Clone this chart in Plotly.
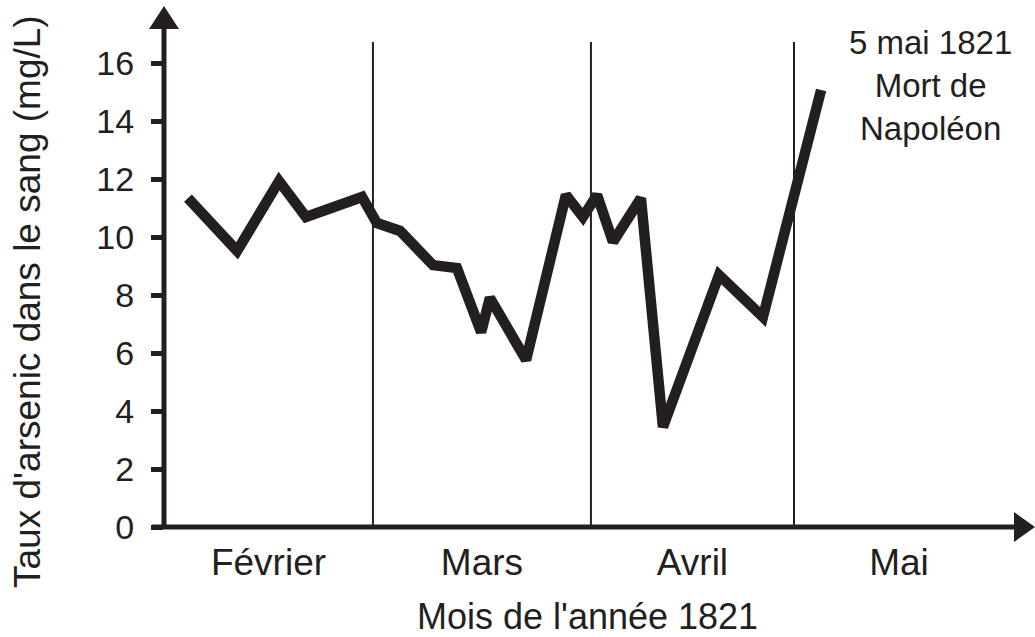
import plotly.graph_objects as go

# Data (x in month units: 0 = start of February)
x_vals = [0.114, 0.348, 0.548, 0.676, 0.943, 1.014, 1.124, 1.281, 1.395, 1.510,
          1.552, 1.724, 1.914, 1.995, 2.062, 2.138, 2.271, 2.376, 2.643, 2.852, 3.129]
arsenic = [11.34, 9.52, 11.93, 10.69, 11.38, 10.48, 10.21, 9.03, 8.93, 6.72,
           7.90, 5.76, 11.45, 10.69, 11.45, 9.83, 11.34, 3.45, 8.69, 7.24, 15.07]

months = ["Février", "Mars", "Avril", "Mai"]
month_bounds = [0.0, 0.995, 2.033, 3.0, 4.0]
y_ticks = [0, 2, 4, 6, 8, 10, 12, 14, 16]

INK = "#231f20"
FONT = "Liberation Sans, Arial, Helvetica, sans-serif"

W, H = 1035, 637
L, R, T, B = 164, 0, 7, 110
PX_PER_MONTH = 210
PX_PER_UNIT = 29
x_max = (W - L - R) / PX_PER_MONTH
y_max = (H - T - B) / PX_PER_UNIT

month_centers = [(month_bounds[i] + month_bounds[i + 1]) / 2 for i in range(len(months))]

fig = go.Figure()
fig.add_trace(go.Scatter(
    x=x_vals, y=arsenic, mode="lines",
    line=dict(color=INK, width=10.5),
    hoverinfo="skip", showlegend=False,
))

shapes = []
# month separators
for b in month_bounds[1:4]:
    shapes.append(dict(type="line", xref="x", yref="y", x0=b, x1=b, y0=0, y1=16.72,
                       line=dict(color=INK, width=2), layer="below"))

pw = W - L - R
ph = H - T - B
def px_x(p):
    return (p - L) / pw
def px_y(p):
    return (H - B - p) / ph

# axes lines
shapes.append(dict(type="line", xref="paper", yref="paper",
                   x0=px_x(152), x1=px_x(1016), y0=0, y1=0,
                   line=dict(color=INK, width=5)))
shapes.append(dict(type="line", xref="paper", yref="paper",
                   x0=0, x1=0, y0=px_y(529), y1=px_y(27),
                   line=dict(color=INK, width=5)))
# arrow heads
shapes.append(dict(type="path", xref="paper", yref="paper",
                   path=f"M {px_x(1014)} {px_y(512)} L {px_x(1035)} {px_y(527)} L {px_x(1014)} {px_y(542)} Z",
                   fillcolor=INK, line=dict(width=0)))
shapes.append(dict(type="path", xref="paper", yref="paper",
                   path=f"M {px_x(149)} {px_y(29)} L {px_x(164)} {px_y(6)} L {px_x(179)} {px_y(29)} Z",
                   fillcolor=INK, line=dict(width=0)))

annotations = [
    dict(xref="x", yref="paper", x=3.648, y=px_y(85), text="5 mai 1821<br>Mort de<br>Napoléon",
         showarrow=False, font=dict(family=FONT, size=33, color=INK), align="center",
         xanchor="center", yanchor="middle"),
    dict(xref="paper", yref="paper", x=px_x(27), y=px_y(302),
         text="Taux d'arsenic dans le sang (mg/L)", textangle=-90, showarrow=False,
         font=dict(family=FONT, size=37, color=INK), xanchor="center", yanchor="middle"),
    dict(xref="paper", yref="paper", x=px_x(587), y=px_y(616),
         text="Mois de l'année 1821", showarrow=False,
         font=dict(family=FONT, size=36, color=INK), xanchor="center", yanchor="middle"),
]

fig.update_layout(
    width=W, height=H, autosize=False,
    margin=dict(l=L, r=R, t=T, b=B, pad=0),
    paper_bgcolor="white", plot_bgcolor="white",
    shapes=shapes, annotations=annotations,
    xaxis=dict(range=[0, x_max], showgrid=False, zeroline=False, showline=False,
               tickvals=month_centers, ticktext=months, ticks="",
               tickfont=dict(family=FONT, size=37, color=INK), ticklabelstandoff=10),
    yaxis=dict(range=[0, y_max], showgrid=False, zeroline=False, showline=False,
               tickvals=y_ticks, ticks="outside", ticklen=12, tickwidth=5, tickcolor=INK,
               tickfont=dict(family=FONT, size=34, color=INK), ticklabelstandoff=10),
)

fig.write_html("out.html", config={"displayModeBar": False},
               post_script="document.body.style.margin='0';document.body.style.overflow='hidden';")
